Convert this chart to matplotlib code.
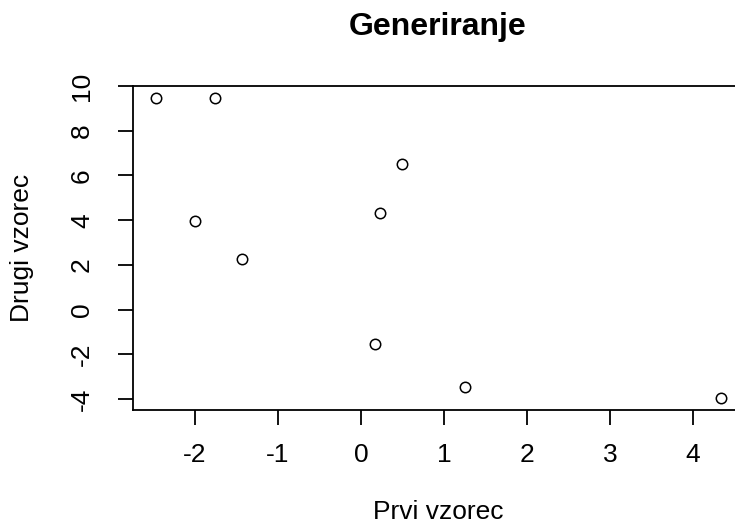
import numpy as np
import matplotlib
matplotlib.use("Agg")
import matplotlib.pyplot as plt

plt.rcParams['font.family'] = ['Liberation Sans', 'DejaVu Sans']
plt.rcParams['axes.unicode_minus'] = False

# two samples
prvi = [-2.47, -1.75, -2.00, -1.43, 0.49, 0.225, 0.165, 1.26, 4.34]
drugi = [9.46, 9.46, 3.95, 2.27, 6.50, 4.30, -1.54, -3.47, -3.95]
x_ticks = [-2, -1, 0, 1, 2, 3, 4]
y_ticks = [-4, -2, 0, 2, 4, 6, 8, 10]

W, H = 735, 525
fig = plt.figure(figsize=(W / 100, H / 100), dpi=100)
ax = fig.add_axes([133 / W, (H - 410) / H, 611 / W, 324 / H])

ax.plot(prvi, drugi, 'o', mfc='none', mec='black', ms=7.5, mew=1.1)

# base-R style 4% padding around the data
def padded(v):
    lo, hi = min(v), max(v)
    d = (hi - lo) * 0.04
    return lo - d, hi + d

ax.set_xlim(*padded(prvi))
ax.set_ylim(*padded(drugi))

ax.set_xticks(x_ticks)
ax.set_yticks(y_ticks)
for s in ax.spines.values():
    s.set_linewidth(1.3)
ax.tick_params(axis='both', length=11, width=1.3, labelsize=19, colors='black')
ax.tick_params(axis='x', pad=13)
ax.tick_params(axis='y', pad=17, labelrotation=90)
for lbl in ax.get_yticklabels():
    lbl.set_verticalalignment('center')

fig.text(438 / W, (H - 35) / H, 'Generiranje', ha='center', va='baseline',
         fontsize=23, fontweight='bold')
fig.text(438 / W, 1 / H, 'Prvi vzorec', ha='center', va='bottom',
         fontsize=19)
fig.text(22 / W, (H - 248) / H, 'Drugi vzorec', ha='center', va='center',
         rotation=90, fontsize=19)

fig.savefig('out.png', dpi=100)
